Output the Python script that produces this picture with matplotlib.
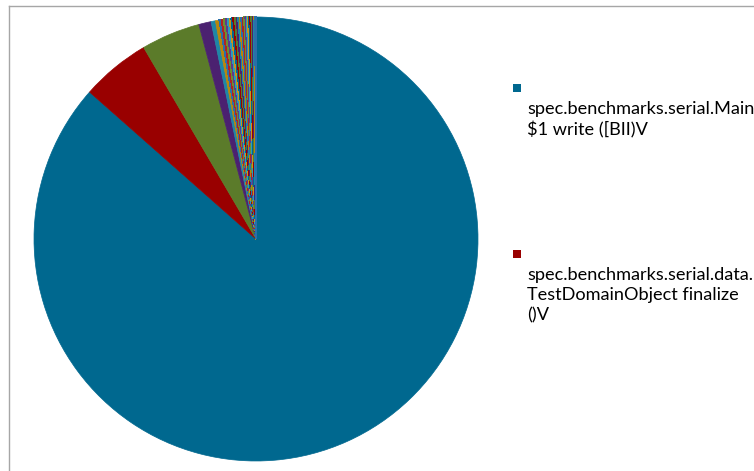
import matplotlib
matplotlib.use("Agg")
import matplotlib.pyplot as plt
from matplotlib.patches import Rectangle
from matplotlib.lines import Line2D

# share of samples per method (percent)
main_shares = [86.6, 5.05, 4.3, 0.9, 0.32, 0.28]
tail_shares = [0.16, 0.15, 0.15, 0.14, 0.14, 0.13, 0.13, 0.12, 0.12, 0.12,
               0.11, 0.11, 0.10, 0.10, 0.10, 0.09, 0.09, 0.09, 0.08, 0.08,
               0.08, 0.07, 0.07, 0.06, 0.06]
shares = main_shares + tail_shares

palette = ["#00688F", "#990000", "#5B7B2A", "#4B2170", "#1E86A6", "#B8860B",
           "#2B6FA8", "#B22222", "#6E8F30", "#5E3A8C", "#2A9BBE", "#C9951A"]
colors = [palette[i % len(palette)] for i in range(len(shares))]

legend_labels = ["spec.benchmarks.serial.Main\n$1 write ([BII)V",
                 "spec.benchmarks.serial.data.\nTestDomainObject finalize\n()V"]

W, H = 754, 471
fig = plt.figure(figsize=(W / 100, H / 100), dpi=100)

# pie: centre (256, 239), radius 222 px
cx, cy, r = 256, 239, 222
ax = fig.add_axes([(cx - r) / W, (H - cy - r) / H, 2 * r / W, 2 * r / H])
wedges, _ = ax.pie(shares, colors=colors, startangle=90, counterclock=False,
                   radius=1.0)
for i, w in enumerate(wedges):
    w.set_edgecolor(w.get_facecolor())
    w.set_linewidth(0.5)
    if i >= len(main_shares):
        # crisp stripes for the many tiny slices
        w.set_antialiased(False)
ax.set_xlim(-1, 1)
ax.set_ylim(-1, 1)
ax.set_aspect("auto")
ax.axis("off")

# chart frame (only top and left edges visible)
fig.add_artist(Line2D([9 / W, 9 / W], [0, 1 - 6 / H], color="#a6a6a6", lw=1))
fig.add_artist(Line2D([9 / W, 1], [1 - 6 / H, 1 - 6 / H], color="#a6a6a6", lw=1))

# legend: marker on its own line, text below
entries_y = [84, 250]
for label, col, y in zip(legend_labels, palette[:2], entries_y):
    fig.add_artist(Rectangle((513 / W, 1 - (y + 8) / H), 8 / W, 8 / H,
                             transform=fig.transFigure, color=col, lw=0))
    fig.text(527 / W, 1 - (y + 17) / H, label, ha="left", va="top",
             fontsize=13.1, family="Lato", color="#000000", linespacing=1.3)

fig.savefig("out.png", dpi=100)
